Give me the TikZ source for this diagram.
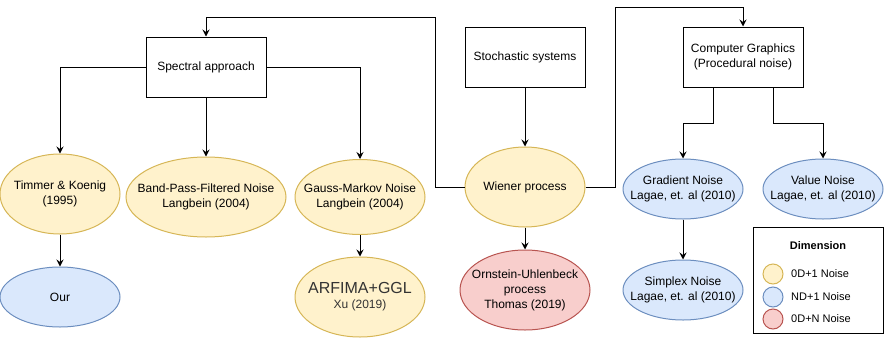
\documentclass[tikz,border=0pt]{standalone}
\usepackage{fontspec}
\setmainfont{Liberation Sans}
\usetikzlibrary{arrows.meta,shapes.geometric}
\definecolor{zerofill}{HTML}{FFF2CC}
\definecolor{zerodraw}{HTML}{D6B656}
\definecolor{ndfill}{HTML}{DAE8FC}
\definecolor{nddraw}{HTML}{6C8EBF}
\definecolor{zdnfill}{HTML}{F8CECC}
\definecolor{zdndraw}{HTML}{B85450}
\definecolor{darktext}{HTML}{333333}
\tikzset{
    topic/.style={draw=black,line width=1pt,minimum width=120pt,minimum height=60pt,align=center,inner sep=0pt},
    method/.style={ellipse,line width=1pt,inner sep=0pt},
    zeroone/.style={method,draw=zerodraw,fill=zerofill},
    ndone/.style={method,draw=nddraw,fill=ndfill},
    zeron/.style={method,draw=zdndraw,fill=zdnfill},
    caption/.style={align=center,inner sep=0pt},
    link/.style={black,line width=1pt,-{Stealth[length=7pt,width=7pt,inset=2.5pt]}},
    legendmark/.style={circle,minimum size=20pt,inner sep=0pt,line width=1pt}
}

\begin{document}
\begin{tikzpicture}[x=1pt,y=-1pt,font=\fontsize{12}{15}\selectfont]
\useasboundingbox (0,0) rectangle (884,338);
% top row: the three fields
\node[topic] (spectral) at (206,67) {Spectral approach};
\node[topic] (stochastic) at (525,57) {Stochastic systems};
\node[topic] (cg) at (743,57) {Computer Graphics\\(Procedural noise)};
% noise models (outline first, text on top)
\node[zeroone,minimum width=120pt,minimum height=80pt] (timmer) at (60,194) {};
\node[zeroone,minimum width=160pt,minimum height=80pt] (bandpass) at (206,197) {};
\node[zeroone,minimum width=130pt,minimum height=75pt] (gauss) at (360,197) {};
\node[zeroone,minimum width=120pt,minimum height=80pt] (wiener) at (525,187) {};
\node[ndone,minimum width=120pt,minimum height=60pt] (gradient) at (683,189) {};
\node[ndone,minimum width=120pt,minimum height=60pt] (value) at (823,189) {};
\node[ndone,minimum width=120pt,minimum height=60pt] (our) at (60,297) {};
\node[zeroone,minimum width=130pt,minimum height=80pt] (arfima) at (360,297) {};
\node[zeron,minimum width=130pt,minimum height=80pt] (ornstein) at (525,290) {};
\node[ndone,minimum width=120pt,minimum height=60pt] (simplex) at (683,290) {};
\node[caption] (timmertext) at (timmer) {Timmer \& Koenig\\(1995)};
\node[caption] (bandpasstext) at (bandpass) {Band-Pass-Filtered Noise\\Langbein (2004)};
\node[caption] (gausstext) at (gauss) {Gauss-Markov Noise\\Langbein (2004)};
\node[caption] (wienertext) at (wiener) {Wiener process};
\node[caption] (gradienttext) at (gradient) {Gradient Noise\\Lagae, et. al (2010)};
\node[caption] (valuetext) at (value) {Value Noise\\Lagae, et. al (2010)};
\node[caption] (ourtext) at (our) {Our};
\node[caption,text=darktext] (arfimatext) at (arfima) {{\fontsize{16}{19}\selectfont ARFIMA+GGL}\\Xu (2019)};
\node[caption] (ornsteintext) at (ornstein) {Ornstein-Uhlenbeck\\process\\Thomas (2019)};
\node[caption] (simplextext) at (simplex) {Simplex Noise\\Lagae, et. al (2010)};
% connectors
\draw[link] (wiener.west) -| (435,17) -| (spectral.north);
\draw[link] (wiener.east) -| (615,7) -| (cg.north);
\draw[link] (spectral.west) -| (timmer.north);
\draw[link] (spectral.south) -- (bandpass.north);
\draw[link] (spectral.east) -| (gauss.north);
\draw[link] (stochastic.south) -- (wiener.north);
\draw[link] (cg.south -| 713,0) |- (683,123) -- (gradient.north);
\draw[link] (cg.south -| 773,0) |- (823,123) -- (value.north);
\draw[link] (timmer.south) -- (our.north);
\draw[link] (gauss.south) -- (arfima.north);
\draw[link] (wiener.south) -- (ornstein.north);
\draw[link] (gradient.south) -- (simplex.north);
% legend
\node[draw=black,line width=1pt,minimum width=130pt,minimum height=106pt,inner sep=0pt] (legend) at (818,280) {};
\node[font=\fontsize{11}{13}\selectfont\bfseries] (dimtitle) at (818,246) {Dimension};
\node[legendmark,draw=zerodraw,fill=zerofill] (mark1) at (773,274) {};
\node[legendmark,draw=nddraw,fill=ndfill] (mark2) at (773,297) {};
\node[legendmark,draw=zdndraw,fill=zdnfill] (mark3) at (773,319) {};
\node[anchor=west,inner sep=0pt,font=\fontsize{11}{13}\selectfont] (label1) at (791,274) {0D+1 Noise};
\node[anchor=west,inner sep=0pt,font=\fontsize{11}{13}\selectfont] (label2) at (791,297) {ND+1 Noise};
\node[anchor=west,inner sep=0pt,font=\fontsize{11}{13}\selectfont] (label3) at (791,319) {0D+N Noise};
\end{tikzpicture}
\end{document}
